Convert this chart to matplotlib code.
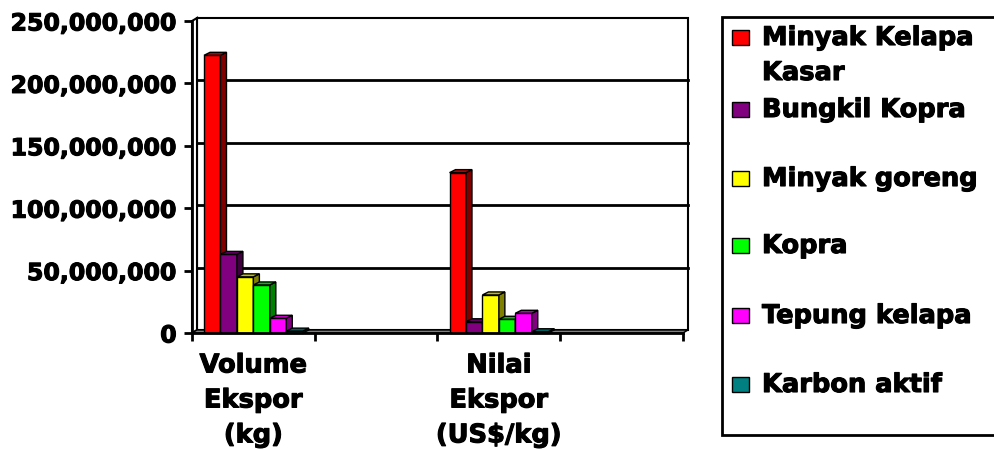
import numpy as np
import matplotlib
matplotlib.use("Agg")
import matplotlib.pyplot as plt
import matplotlib.patheffects as pe
from matplotlib.patches import Rectangle, Polygon
from matplotlib.colors import to_rgb

plt.rcParams['font.family'] = ['DejaVu Sans']
plt.rcParams['font.weight'] = 'bold'

# data
categories = ["Volume\nEkspor\n(kg)", "", "Nilai\nEkspor\n(US$/kg)", ""]
series_names = ["Minyak Kelapa\nKasar", "Bungkil Kopra", "Minyak goreng",
                "Kopra", "Tepung kelapa", "Karbon aktif"]
minyak_kelapa_kasar = [222500000, np.nan, 128500000, np.nan]
bungkil_kopra = [63000000, np.nan, 9000000, np.nan]
minyak_goreng = [45000000, np.nan, 30500000, np.nan]
kopra = [38500000, np.nan, 11000000, np.nan]
tepung_kelapa = [11800000, np.nan, 15800000, np.nan]
karbon_aktif = [1500000, np.nan, 1000000, np.nan]
y_ticks = [0, 50000000, 100000000, 150000000, 200000000, 250000000]

series = [minyak_kelapa_kasar, bungkil_kopra, minyak_goreng,
          kopra, tepung_kelapa, karbon_aktif]
colors = ['#FF0000', '#800080', '#FFFF00', '#00FF00', '#FF00FF', '#008080']

heavy = [pe.withStroke(linewidth=0.8, foreground='black')]


def shade(c, f):
    r, g, b = to_rgb(c)
    return (r * f, g * f, b * f)


W, H = 995, 449
fig = plt.figure(figsize=(W / 100, H / 100), dpi=100)
ax = fig.add_axes([192 / W, (H - 333) / H, 491 / W, 312 / H])
ax.set_xlim(0, len(categories))
ax.set_ylim(0, y_ticks[-1])
ax.patch.set_visible(False)

# pixel -> data scale, for the fake 3d depth
px_x = ax.transData.transform((1, 0))[0] - ax.transData.transform((0, 0))[0]
px_y = ax.transData.transform((0, 1e6))[1] - ax.transData.transform((0, 0))[1]
wdx, wdy = 5 / px_x, 3 / px_y * 1e6
bdx, bdy = 6 / px_x, 3 / px_y * 1e6

ncat = len(categories)
top = y_ticks[-1]

# back wall, left wall, floor
ax.add_patch(Rectangle((wdx, wdy), ncat, top, fc='white', ec='black', lw=1.5,
                       zorder=0, clip_on=False))
ax.add_patch(Polygon([(0, 0), (wdx, wdy), (wdx, top + wdy), (0, top)],
                     closed=True, fc='white', ec='black', lw=1.5, zorder=1, clip_on=False))
for v in y_ticks[1:-1]:
    ax.plot([wdx, ncat + wdx], [v + wdy, v + wdy], color='black', lw=2,
            zorder=1, clip_on=False)
ax.add_patch(Polygon([(0, 0), (ncat, 0), (ncat + wdx, wdy), (wdx, wdy)],
                     closed=True, fc='#808080', ec='black', lw=1, zorder=2, clip_on=False))

# bars
nser = len(series)
w = 0.134
for k, vals in enumerate(series):
    for i, v in enumerate(vals):
        if np.isnan(v):
            continue
        x0 = i + 0.5 - nser / 2 * w + k * w
        z = 10 + 3 * k
        ax.bar(x0, v, w, align='edge', color=colors[k], edgecolor='black',
               lw=1, zorder=z, clip_on=False)
        ax.add_patch(Polygon([(x0 + w, 0), (x0 + w + bdx, bdy), (x0 + w + bdx, v + bdy), (x0 + w, v)],
                             closed=True, fc=shade(colors[k], 0.5), ec='black', lw=1,
                             zorder=z + 1, clip_on=False))
        ax.add_patch(Polygon([(x0, v), (x0 + bdx, v + bdy), (x0 + w + bdx, v + bdy), (x0 + w, v)],
                             closed=True, fc=shade(colors[k], 0.75), ec='black', lw=1,
                             zorder=z + 1, clip_on=False))

for s in ['top', 'right']:
    ax.spines[s].set_visible(False)
for s in ['left', 'bottom']:
    ax.spines[s].set_linewidth(2)
    ax.spines[s].set_zorder(30)

ax.set_yticks(y_ticks)
ax.set_yticklabels([f"{v:,}" for v in y_ticks])
ax.tick_params(axis='y', length=6, width=2, pad=5, labelsize=17)

ax.set_xticks(range(ncat + 1))
ax.set_xticklabels([])
ax.set_xticks([i + 0.5 for i in range(ncat)], minor=True)
ax.set_xticklabels(categories, minor=True, fontsize=18.5, linespacing=1.45)
ax.tick_params(axis='x', which='major', length=6, width=2)
ax.tick_params(axis='x', which='minor', length=0, pad=14)

for t in ax.get_yticklabels() + ax.get_xticklabels(minor=True):
    t.set_path_effects(heavy)

# legend box, drawn in pixel positions
def fx(px):
    return px / W


def fy(py):
    return (H - py) / H


fig.patches.append(Rectangle((fx(722), fy(435)), fx(1010) - fx(722), fy(17) - fy(435),
                             transform=fig.transFigure, fc='white', ec='black', lw=2))
baselines = [45, 117, 186, 253, 323, 392]
for k, name in enumerate(series_names):
    b = baselines[k]
    fig.patches.append(Rectangle((fx(732), fy(b)), fx(749) - fx(732), fy(b - 15) - fy(b),
                                 transform=fig.transFigure, fc=colors[k], ec='black', lw=1))
    for j, line in enumerate(name.split("\n")):
        fig.text(fx(762), fy(b + 35 * j), line, fontsize=18.5, va='baseline', ha='left',
                 path_effects=heavy)

fig.savefig("out.png", dpi=100)
